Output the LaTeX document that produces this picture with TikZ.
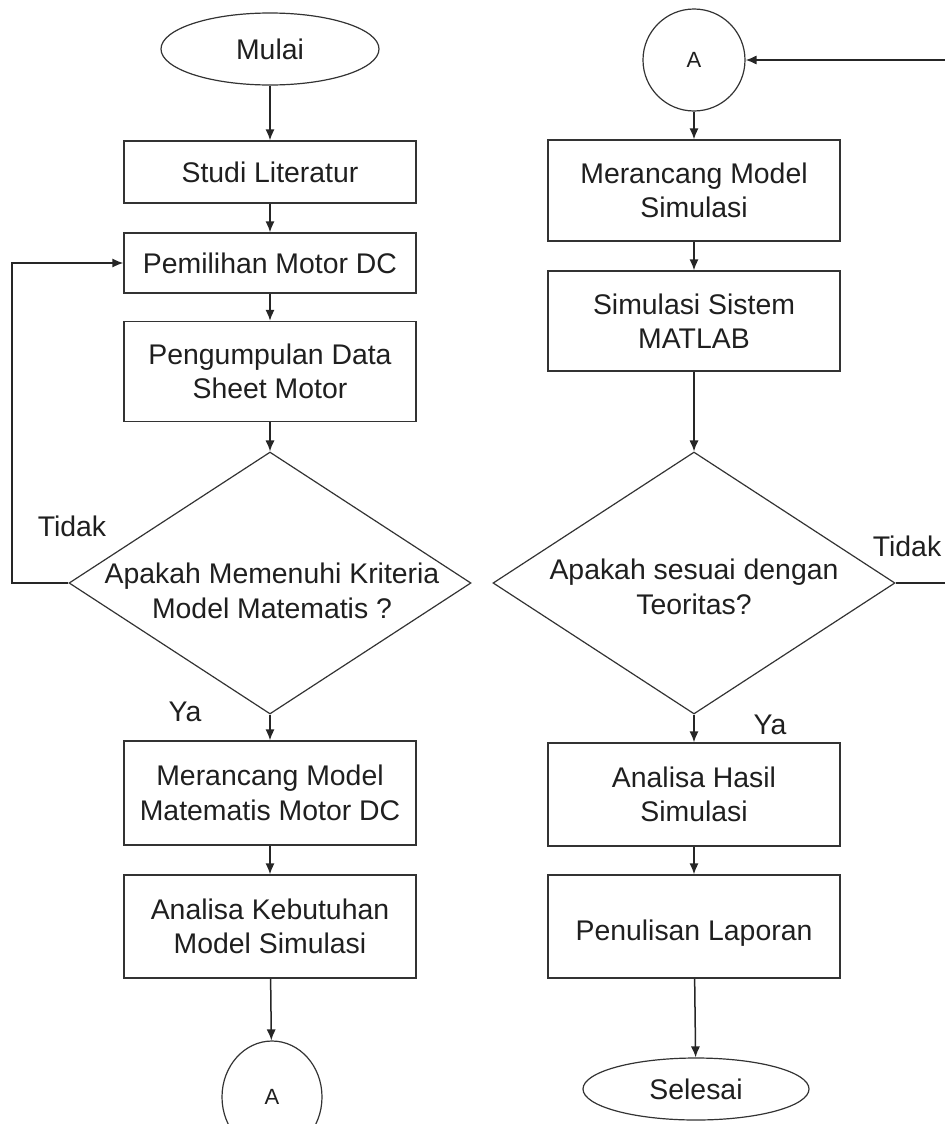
\documentclass[tikz,border=0pt]{standalone}
\usepackage{fontspec}
\setmainfont{Liberation Sans}
\usetikzlibrary{shapes.geometric,arrows.meta}
\begin{document}
\begin{tikzpicture}[x=0.5pt,y=-0.5pt,
  every node/.style={font=\fontsize{14.2}{17.2}\selectfont, text=black!88},
  box/.style={draw=black!80, line width=0.7pt, minimum width=146pt, align=center, inner sep=0pt},
  term/.style={draw=black!80, line width=0.6pt, ellipse, inner sep=0pt},
  conn/.style={draw=black!80, line width=0.6pt, ellipse, inner sep=0pt, font=\fontsize{11}{13}\selectfont},
  decision/.style={draw=black!80, line width=0.6pt, diamond, inner sep=0pt, minimum width=201pt, minimum height=131pt},
  dtext/.style={align=center, inner sep=0pt},
  lbl/.style={inner sep=0pt},
  arr/.style={draw=black!85, line width=0.75pt, -{Latex[length=5.5pt,width=4.6pt]}}
]
\useasboundingbox (0,0) rectangle (945,1124);

% left column
\node[term, minimum width=109pt, minimum height=36pt] (mulai) at (270,49) {Mulai};
\node[box, minimum height=31pt] (studi) at (270,172) {Studi Literatur};
\node[box, minimum height=30pt] (pilih) at (270,263) {Pemilihan Motor DC};
\node[box, minimum height=50pt] (kumpul) at (270,371.5) {Pengumpulan Data\\Sheet Motor};
\node[decision] (dec1) at (270,583) {};
\node[dtext] (dec1t) at (272,591) {Apakah Memenuhi Kriteria\\Model Matematis ?};
\node[box, minimum height=52pt] (model1) at (270,793) {Merancang Model\\Matematis Motor DC};
\node[box, minimum height=51.5pt] (butuh) at (270,926.5) {Analisa Kebutuhan\\Model Simulasi};
\node[conn, minimum width=50pt, minimum height=56pt] (a1) at (272,1097) {A};
\node[lbl] (tidak1) at (72,526) {Tidak};
\node[lbl] (ya1) at (185,712) {Ya};
\coordinate (loopL) at (12,583);

% right column
\node[conn, minimum width=51pt, minimum height=51pt] (a2) at (694,60) {A};
\node[box, minimum height=50.5pt] (model2) at (694,190.5) {Merancang Model\\Simulasi};
\node[box, minimum height=50pt] (sim) at (694,321) {Simulasi Sistem\\MATLAB};
\node[decision] (dec2) at (694,583) {};
\node[dtext] (dec2t) at (694,587) {Apakah sesuai dengan\\Teoritas?};
\node[box, minimum height=51.5pt] (hasil) at (694,794.5) {Analisa Hasil\\Simulasi};
\node[box, minimum height=51.5pt, text height=17pt, text depth=3pt] (lapor) at (694,926.5) {Penulisan Laporan};
\node[term, minimum width=113pt, minimum height=31pt] (selesai) at (696,1089) {Selesai};
\node[lbl] (tidak2) at (907,546) {Tidak};
\node[lbl] (ya2) at (770,725) {Ya};
\coordinate (loopR) at (950,583);

% connectors, left
\draw[arr] (mulai) -- (studi);
\draw[arr] (studi) -- (pilih);
\draw[arr] (pilih) -- (kumpul);
\draw[arr] (kumpul) -- (dec1.north);
\draw[arr] (dec1.south) -- (model1);
\draw[arr] (model1) -- (butuh);
\draw[arr] (butuh) -- (a1);
\draw[arr] (dec1.west) -- (loopL) |- (pilih.west);

% connectors, right
\draw[arr] (a2) -- (model2);
\draw[arr] (model2) -- (sim);
\draw[arr] (sim) -- (dec2.north);
\draw[arr] (dec2.south) -- (hasil);
\draw[arr] (hasil) -- (lapor);
\draw[arr] (lapor) -- (selesai);
\draw[arr] (dec2.east) -- (loopR) |- (a2.east);
\end{tikzpicture}
\end{document}
